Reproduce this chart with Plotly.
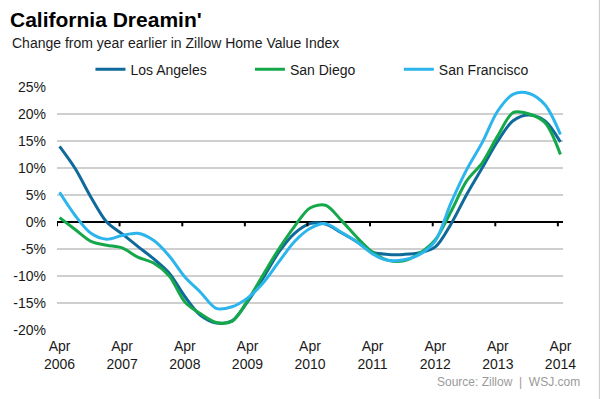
import plotly.graph_objects as go

# month offsets from Apr 2006 (points sampled every 3 months, plotted mid-month)
months = list(range(0, 97, 3))

los_angeles = [14.0, 9.9, 4.6, 0.0, -2.2, -4.5, -6.8, -9.5, -13.8, -17.3, -18.7,
               -18.3, -14.8, -10.4, -5.6, -2.1, -0.3, -0.4, -2.0, -3.7, -5.6, -6.0,
               -6.0, -5.7, -4.6, -0.4, 5.1, 10.1, 15.0, 18.8, 19.8, 18.7, 14.8]
san_diego = [0.8, -1.4, -3.6, -4.3, -4.8, -6.5, -7.6, -10.0, -14.8, -17.0, -18.6,
             -18.4, -14.6, -9.8, -5.0, -0.8, 2.6, 3.1, 0.3, -2.9, -5.6, -7.1,
             -7.2, -5.8, -3.3, 1.9, 7.6, 11.0, 16.0, 20.3, 20.0, 18.4, 12.5]
san_francisco = [5.5, 1.2, -2.1, -3.2, -2.5, -2.1, -3.4, -6.3, -10.2, -13.0, -16.0,
                 -15.7, -14.1, -11.3, -7.4, -3.6, -1.2, -0.3, -1.9, -3.7, -5.9, -7.1,
                 -7.0, -6.0, -3.5, 3.5, 9.7, 14.8, 20.6, 23.7, 23.8, 21.7, 16.2]

tick_years = list(range(2006, 2015))
tick_labels = [f"Apr<br>{y}" for y in tick_years]
y_ticks = list(range(-20, 26, 5))
y_tick_labels = [f"{v}%" for v in y_ticks]


def month_date(m):
    total = 2006 * 12 + 3 + m  # April = index 3
    y, mo = divmod(total, 12)
    return f"{y}-{mo + 1:02d}-16"


dates = [month_date(m) for m in months]

series = [
    ("Los Angeles", los_angeles, "#0f6a9b", "legend", 0.0661),
    ("San Diego", san_diego, "#14a84a", "legend2", 0.3813),
    ("San Francisco", san_francisco, "#2cb5ec", "legend3", 0.6755),
]

FONT = "Arial, Liberation Sans, sans-serif"

fig = go.Figure()
legends = {}
for name, vals, color, leg, lx in series:
    fig.add_trace(go.Scatter(
        x=dates, y=vals, name=name, mode="lines", legend=leg,
        line=dict(color=color, width=3, shape="spline", smoothing=0.9),
    ))
    legends[leg] = dict(orientation="h", x=lx, y=1.0713, xanchor="left", yanchor="middle",
                        itemwidth=30, font=dict(size=14, color="#1a1a1a", family=FONT),
                        bgcolor="rgba(0,0,0,0)")

# tick marks hanging from the zero line
shapes = []
for y in tick_years:
    shapes.append(dict(type="line", xref="x", yref="y",
                       x0=f"{y}-04-01", x1=f"{y}-04-01", y0=0, y1=-0.8,
                       line=dict(color="black", width=2)))
# right border of the graphic
shapes.append(dict(type="line", xref="paper", yref="paper",
                   x0=1.0718, x1=1.0718, y0=-0.3, y1=1.4,
                   line=dict(color="#c4c4c4", width=1)))

fig.update_layout(
    width=600, height=399,
    margin=dict(l=57, r=37, t=87, b=69),
    paper_bgcolor="white", plot_bgcolor="white",
    font=dict(family=FONT, color="#1a1a1a", size=14),
    title=dict(text="<b>California Dreamin'</b>", xref="container", yref="container",
               x=10 / 600, xanchor="left", y=1 - 12 / 399, yanchor="top",
               font=dict(size=21, color="black", family=FONT)),
    xaxis=dict(type="date", range=["2006-04-01", "2014-05-01"],
               tickvals=[f"{y}-04-16" for y in tick_years], ticktext=tick_labels,
               showgrid=False, ticks="", showline=False, zeroline=False,
               ticklabelstandoff=6,
               tickfont=dict(size=14, color="#1a1a1a")),
    yaxis=dict(range=[-20, 25], tickvals=y_ticks, ticktext=y_tick_labels,
               showgrid=True, gridcolor="#cfcfcf", gridwidth=2,
               zeroline=True, zerolinecolor="black", zerolinewidth=2,
               ticks="", showline=False, ticklabelstandoff=10,
               tickfont=dict(size=14, color="#1a1a1a")),
    showlegend=True,
    shapes=shapes,
    annotations=[
        dict(text="Change from year earlier in Zillow Home Value Index",
             xref="paper", yref="paper", x=-0.0936, y=1.1826,
             xanchor="left", yanchor="middle", showarrow=False,
             font=dict(size=14, color="#1a1a1a")),
        dict(text="Source: Zillow  |  WSJ.com",
             xref="paper", yref="paper", x=1.0376, y=-0.213,
             xanchor="right", yanchor="middle", showarrow=False,
             font=dict(size=12, color="#9a9a9a")),
    ],
)
fig.update_layout(**legends)

fig.write_html("out.html",
               config={"displayModeBar": False},
               post_script="document.body.style.margin='0px';"
                           "document.body.style.overflow='hidden';")
